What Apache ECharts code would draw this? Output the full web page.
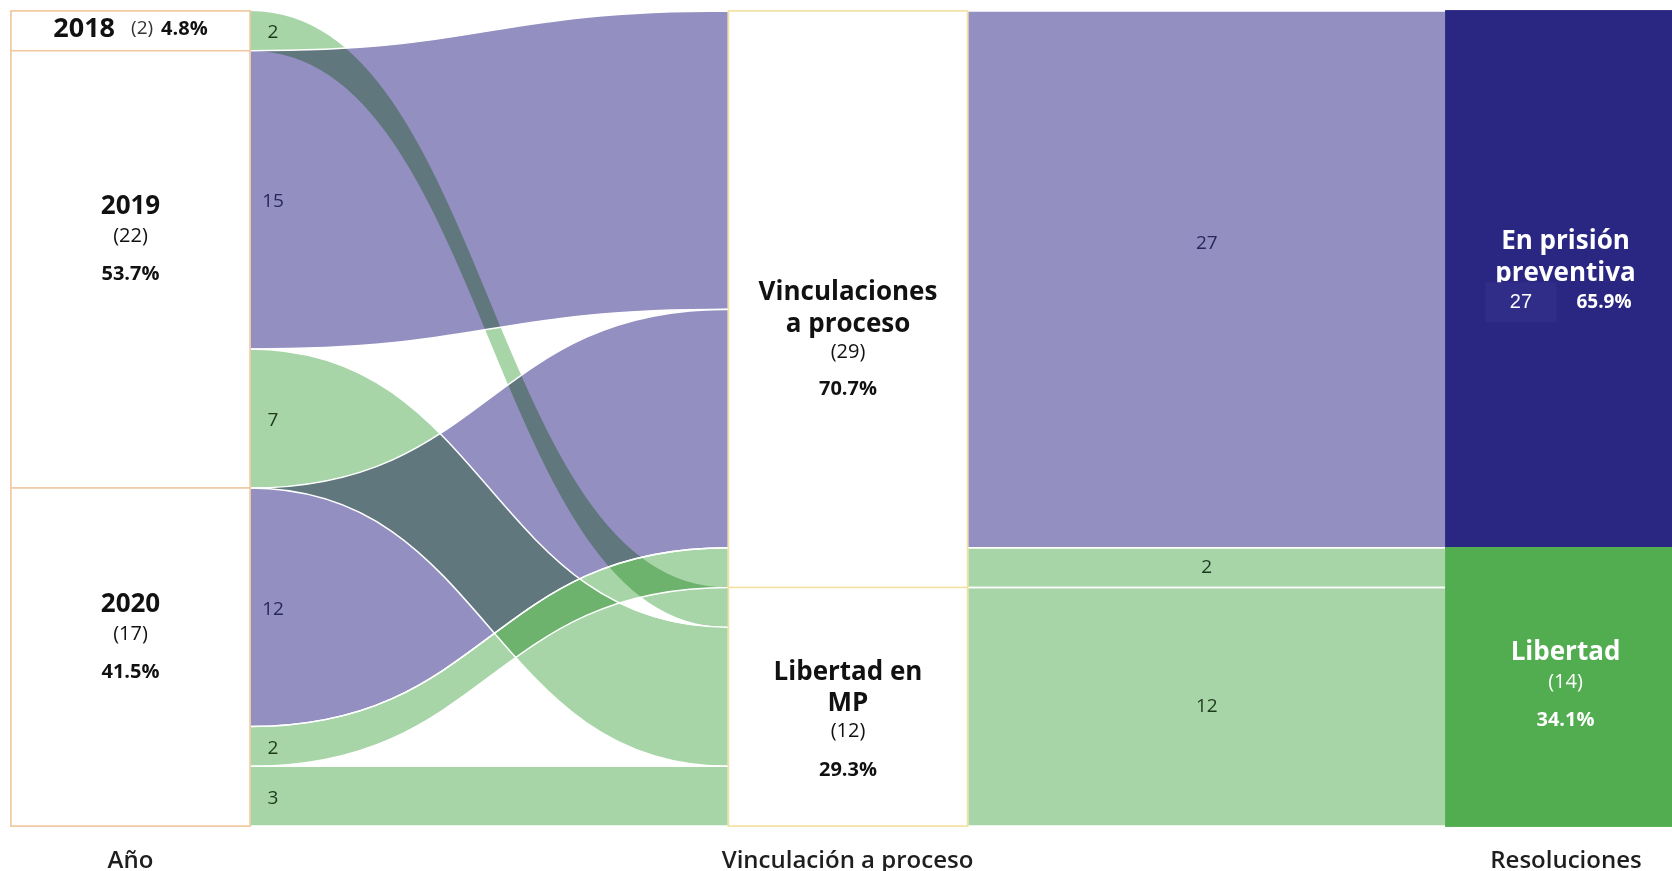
<!DOCTYPE html>
<html lang="es">
<head>
<meta charset="UTF-8">
<title>Vinculación a proceso</title>
<script src="https://cdn.jsdelivr.net/npm/echarts@6/dist/echarts.min.js"></script>
<style>
    html, body { margin: 0; padding: 0; background: #fff; }
    #chart { width: 1672px; height: 871px; }
</style>
</head>
<body>
<div id="chart"></div>
<script>
// ---- datos ----
var yearNames = ['2018', '2019', '2020'];
var yearCounts = [2, 22, 17];
var yearPct = ['4.8%', '53.7%', '41.5%'];

var stageNames = ['Vinculaciones a proceso', 'Libertad en MP'];
var stageLines = [['Vinculaciones', 'a proceso'], ['Libertad en', 'MP']];
var stageCounts = [29, 12];
var stagePct = ['70.7%', '29.3%'];

var resultNames = ['En prisión preventiva', 'Libertad'];
var resultLines = [['En prisión', 'preventiva'], ['Libertad']];
var resultCounts = [27, 14];
var resultPct = ['65.9%', '34.1%'];

// flujos (orden = orden de apilado dentro de cada nodo)
var flowFrom = ['2018', '2019', '2019', '2020', '2020', '2020',
    'Vinculaciones a proceso', 'Vinculaciones a proceso', 'Libertad en MP'];
var flowTo = ['Libertad en MP', 'Vinculaciones a proceso', 'Libertad en MP',
    'Vinculaciones a proceso', 'Vinculaciones a proceso', 'Libertad en MP',
    'En prisión preventiva', 'Libertad', 'Libertad'];
var flowValue = [2, 15, 7, 12, 2, 3, 27, 2, 12];
// resolución final a la que alimenta cada flujo (decide el color)
var flowEnd = ['lib', 'pp', 'lib', 'pp', 'lib', 'lib', 'pp', 'lib', 'lib'];

var columnTitles = ['Año', 'Vinculación a proceso', 'Resoluciones'];

// ---- estilos ----
var FONT = 'Open Sans';
var linkColor = { pp: '#938fc1', lib: '#a7d5a7' };
var linkText = { pp: '#28265c', lib: '#1c391c' };
var nodeColor = { '2018': '#fff', '2019': '#fff', '2020': '#fff',
    'Vinculaciones a proceso': '#fff', 'Libertad en MP': '#fff',
    'En prisión preventiva': '#2a2783', 'Libertad': '#52ad50' };
var nodeBorder = { '2018': '#f0c7a0', '2019': '#f0c7a0', '2020': '#f0c7a0',
    'Vinculaciones a proceso': '#f3e1a4', 'Libertad en MP': '#f3e1a4',
    'En prisión preventiva': '#2a2783', 'Libertad': '#52ad50' };
var kinds = {
    year: { fontSize: 26, fontWeight: 'bold' },
    name: { fontSize: 26, fontWeight: 'bold' },
    count: { fontSize: 20, fontWeight: 'normal' },
    pct: { fontSize: 20, fontWeight: 'bold' }
};

function block(lines, dy, color) {
    var rich = {}, parts = [];
    lines.forEach(function (ln, i) {
        var key = 'l' + i;
        rich[key] = Object.assign({ fontFamily: FONT, color: color, lineHeight: ln[2] }, kinds[ln[0]]);
        parts.push('{' + key + '|' + ln[1] + '}');
    });
    return { show: true, position: 'inside', offset: [0, dy], formatter: parts.join('\n'), rich: rich };
}

function nodeLabels() {
    var m = {};
    m['2018'] = {
        show: true, position: 'inside', offset: [0, -2],
        formatter: '{y|' + yearNames[0] + '}{c|(' + yearCounts[0] + ')}{p|' + yearPct[0] + '}',
        rich: {
            y: { fontFamily: FONT, fontSize: 27, fontWeight: 'bold', color: '#111' },
            c: { fontFamily: FONT, fontSize: 19, color: '#333', padding: [0, 8, 0, 16] },
            p: { fontFamily: FONT, fontSize: 20, fontWeight: 'bold', color: '#111' }
        }
    };
    m['2019'] = block([['year', yearNames[1], 28], ['count', '(' + yearCounts[1] + ')', 32], ['pct', yearPct[1], 44]], -25, '#111');
    m['2020'] = block([['year', yearNames[2], 28], ['count', '(' + yearCounts[2] + ')', 30], ['pct', yearPct[2], 46]], -14, '#111');
    m[stageNames[0]] = block([['name', stageLines[0][0], 32], ['name', stageLines[0][1], 32],
        ['count', '(' + stageCounts[0] + ')', 24], ['pct', stagePct[0], 50]], 46, '#111');
    m[stageNames[1]] = block([['name', stageLines[1][0], 31], ['name', stageLines[1][1], 31],
        ['count', '(' + stageCounts[1] + ')', 25], ['pct', stagePct[1], 53]], 20, '#111');
    m[resultNames[0]] = {
        show: true, position: 'inside', offset: [0, -9],
        formatter: '{a|' + resultLines[0][0] + '}\n{a|' + resultLines[0][1] + '}\n{box|' + resultCounts[0] + '}{p|' + resultPct[0] + '}',
        rich: {
            a: { fontFamily: FONT, fontSize: 26, fontWeight: 'bold', color: '#fff', lineHeight: 32 },
            box: { fontFamily: 'Liberation Sans', fontSize: 20, color: '#fff', backgroundColor: '#302d88',
                width: 71, height: 40, align: 'center', lineHeight: 26 },
            p: { fontFamily: FONT, fontSize: 19, fontWeight: 'bold', color: '#fff', lineHeight: 26, padding: [0, 14, 0, 20] }
        }
    };
    m[resultNames[1]] = block([['name', resultLines[1][0], 28], ['count', '(' + resultCounts[1] + ')', 30],
        ['pct', resultPct[1], 46]], 4, '#fff');
    return m;
}

var allNames = yearNames.concat(stageNames, resultNames);

function makeNodes(withLabels) {
    var labels = nodeLabels();
    return allNames.map(function (n) {
        return {
            name: n,
            itemStyle: { color: nodeColor[n], borderColor: nodeBorder[n], borderWidth: 1.5 },
            label: withLabels ? labels[n] : { show: false }
        };
    });
}

// links del trazo de color (se mezclan en "multiply")
function fillLinks() {
    return flowValue.map(function (v, i) {
        return {
            source: flowFrom[i], target: flowTo[i], value: v,
            lineStyle: { color: linkColor[flowEnd[i]], opacity: 1, borderWidth: 0 }
        };
    });
}

// capa superior: filetes blancos + etiquetas de flujo
function edgeLinks(offsets) {
    return flowValue.map(function (v, i) {
        var item = {
            source: flowFrom[i], target: flowTo[i], value: v,
            lineStyle: { color: 'rgba(0,0,0,0)', opacity: 1, borderColor: '#fff',
                borderWidth: flowFrom[i] === '2018' ? 0 : 1.5 },
            edgeLabel: { color: linkText[flowEnd[i]] }
        };
        if (offsets && offsets[i]) item.edgeLabel.offset = offsets[i];
        return item;
    });
}

var labelNudge = { 6: -36 };   // flujo 27 -> prisión preventiva

function sankeyBase() {
    return {
        type: 'sankey',
        left: 11, top: 11, width: 1674, height: 815,
        nodeWidth: 239, nodeGap: 0, layoutIterations: 0,
        draggable: false, silent: true,
        emphasis: { disabled: true },
        animation: false
    };
}

function makeOption(offsets) {
    var s1 = Object.assign(sankeyBase(), {
        nodes: makeNodes(false), links: fillLinks(),
        label: { show: false }, edgeLabel: { show: false }
    });
    var s2 = Object.assign(sankeyBase(), {
        nodes: makeNodes(true), links: edgeLinks(offsets),
        edgeLabel: { show: true, fontFamily: FONT, fontSize: 19, color: '#222' }
    });
    var colX = [130.5, 847.5, 1566];
    return {
        backgroundColor: '#fff',
        animation: false,
        series: [s1, s2],
        graphic: columnTitles.map(function (t, i) {
            return {
                type: 'text', x: colX[i], y: 861, silent: true,
                style: { text: t, fill: '#1e1e1e', font: '600 24px "' + FONT + '"',
                    textAlign: 'center', textVerticalAlign: 'middle' }
            };
        })
    };
}

var chart = echarts.init(document.getElementById('chart'));
chart.setOption(makeOption(null));

// posiciones de etiquetas según el layout calculado por la propia serie
function labelOffsets() {
    var out = [];
    var graph = chart.getModel().getSeriesByIndex(1).getGraph();
    graph.edges.forEach(function (e) {
        var l = e.getLayout(), a = e.node1.getLayout(), b = e.node2.getLayout();
        var x1 = a.x + a.dx, y1 = a.y + l.sy, x2 = b.x, y2 = b.y + l.ty;
        var cx = (x1 + x2) / 2;
        var cy = (Math.min(y1, y2) + Math.max(y1, y2) + l.dy) / 2;
        var i = e.dataIndex;
        if (yearNames.indexOf(flowFrom[i]) >= 0) {
            out[i] = [x1 + 23 - cx, y1 + l.dy / 2 - cy + 2];
        } else {
            out[i] = [0, labelNudge[i] || 0];
        }
    });
    return out;
}

chart.setOption(makeOption(labelOffsets()), true);

// mezcla multiplicativa para las bandas de color
var zr = chart.getZr();
zr.storage.getDisplayList(true).forEach(function (el) {
    if (el.shape && el.shape.cpx1 != null && el.style && el.style.fill !== 'rgba(0,0,0,0)') {
        el.style.blend = 'multiply';
        el.markRedraw();
    }
});
zr.refresh();
</script>
</body>
</html>
